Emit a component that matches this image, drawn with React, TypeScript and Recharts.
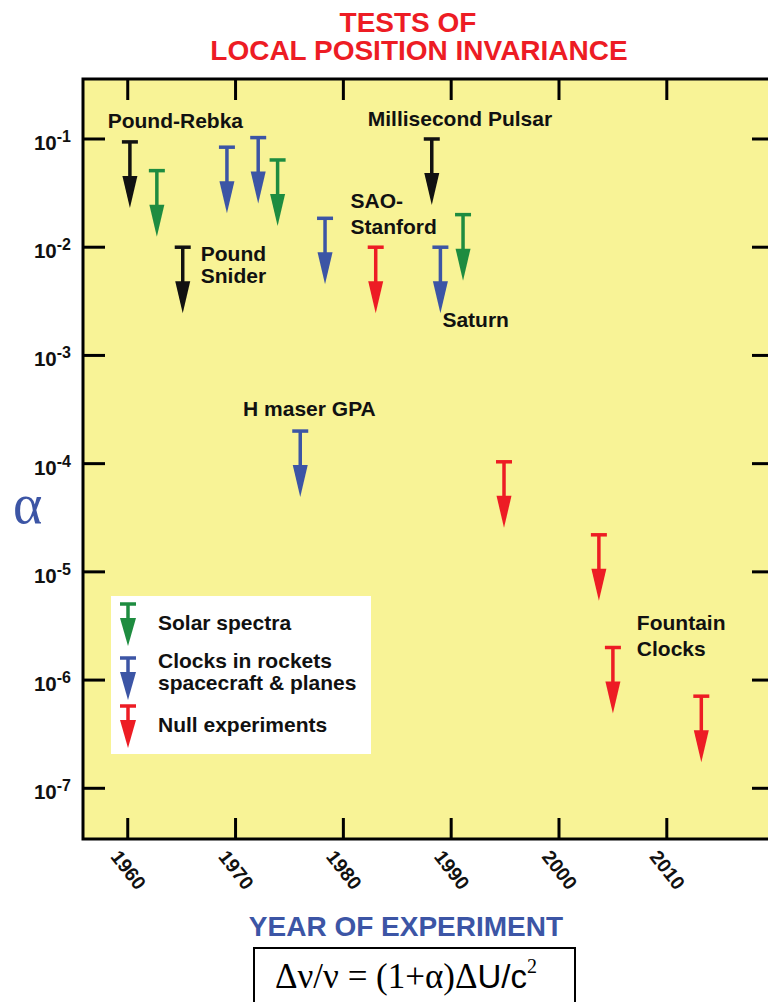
import React from "react";
import {
  ScatterChart,
  Scatter,
  XAxis,
  YAxis,
  ReferenceArea,
  ReferenceDot,
} from "recharts";

// black: gravitational redshift / pulsar
const otherYears = [1960.2, 1965.1, 1988.2];
const otherAlpha = [0.094, 0.01, 0.1];
// green: solar spectra
const solarYears = [1962.7, 1973.9, 1991.1];
const solarAlpha = [0.051, 0.064, 0.02];
// blue: clocks in rockets, spacecraft & planes
const clockYears = [1969.2, 1972.1, 1976.0, 1978.3, 1989.0];
const clockAlpha = [0.084, 0.103, 2.0e-4, 0.0185, 0.01];
// red: null experiments
const nullYears = [1983.0, 1994.9, 2003.7, 2005.0, 2013.2];
const nullAlpha = [0.01, 1.04e-4, 2.2e-5, 2.0e-6, 7.1e-7];

const yearTicks = [1960, 1970, 1980, 1990, 2000, 2010];
const alphaTicks = [1e-1, 1e-2, 1e-3, 1e-4, 1e-5, 1e-6, 1e-7];

const noteText = [
  ["Pound-Rebka"],
  ["Millisecond Pulsar"],
  ["SAO-", "Stanford"],
  ["Pound", "Snider"],
  ["Saturn"],
  ["H maser GPA"],
  ["Fountain", "Clocks"],
];
const noteYear = [1958.14, 1982.26, 1980.66, 1966.77, 1989.19, 1970.7, 2007.22];
const noteAlpha = [0.1265, 0.1318, 0.023, 0.00738, 0.00184, 2.75e-4, 2.9e-6];
const noteGap = [0, 0, 26, 22, 0, 0, 26];

const legendText = [
  ["Solar spectra"],
  ["Clocks in rockets", "spacecraft & planes"],
  ["Null experiments"],
];

const X_DOMAIN = [1955.85, 2019.85];
const Y_DOMAIN = [3.4e-8, 0.3584];

const BLACK = "#111";
const GREEN = "#1e8c40";
const BLUE = "#3c55a5";
const RED = "#ed1c24";
const YELLOW = "#f8f396";
const SANS = "'Liberation Sans', Arial, Helvetica, sans-serif";
const SERIF = "'Liberation Serif', 'Times New Roman', serif";

const CHART_W = 800;
const CHART_H = 1002;
const PLOT_LEFT = 83;
const PLOT_TOP = 79;
const PLOT_RIGHT = 773;
const PLOT_BOTTOM = 839;
const AXIS_W = 40;
const AXIS_H = 40;

const toPoints = (years: number[], alpha: number[]) =>
  years.map((year, i) => ({ year, alpha: alpha[i] }));

const LimitArrow = ({ cx, cy, color }: any) => (
  <g>
    <line x1={cx - 8} x2={cx + 8} y1={cy} y2={cy} stroke={color} strokeWidth={3.5} />
    <line x1={cx} x2={cx} y1={cy} y2={cy + 36} stroke={color} strokeWidth={3.5} />
    <polygon
      points={`${cx - 7.5},${cy + 34} ${cx + 7.5},${cy + 34} ${cx},${cy + 66}`}
      fill={color}
    />
  </g>
);

const arrowShape = (color: string) => (p: any) =>
  <LimitArrow cx={p.cx} cy={p.cy} color={color} />;

const YearTick = (props: any) => {
  const { x, payload } = props;
  const lx = x - 18;
  const ly = 857;
  return (
    <g>
      <line x1={x} x2={x} y1={PLOT_BOTTOM - 21} y2={PLOT_BOTTOM} stroke="#000" strokeWidth={3} />
      <line x1={x} x2={x} y1={PLOT_TOP} y2={PLOT_TOP + 21} stroke="#000" strokeWidth={3} />
      <text
        x={lx}
        y={ly}
        transform={`rotate(52 ${lx} ${ly})`}
        fontFamily={SANS}
        fontWeight="bold"
        fontSize={19.5}
        fill={BLACK}
      >
        {payload.value}
      </text>
    </g>
  );
};

const AlphaTick = (props: any) => {
  const { y, payload } = props;
  const exp = Math.round(Math.log10(payload.value));
  return (
    <g>
      <line x1={PLOT_LEFT} x2={PLOT_LEFT + 22} y1={y} y2={y} stroke="#000" strokeWidth={3} />
      <line x1={PLOT_RIGHT - 21} x2={PLOT_RIGHT} y1={y} y2={y} stroke="#000" strokeWidth={3} />
      <text
        x={71}
        y={y + 11}
        textAnchor="end"
        fontFamily={SANS}
        fontWeight="bold"
        fontSize={20.5}
        fill={BLACK}
      >
        10
        <tspan dy={-8} fontSize={16}>
          {`-${Math.abs(exp)}`}
        </tspan>
      </text>
    </g>
  );
};

const Note = ({ cx, cy, lines, gap }: any) => (
  <text fontFamily={SANS} fontWeight="bold" fontSize={21} fill={BLACK}>
    {lines.map((t: string, i: number) => (
      <tspan key={i} x={cx} y={cy + i * gap}>
        {t}
      </tspan>
    ))}
  </text>
);

const LegendArrow = ({ x, y, color }: any) => (
  <g>
    <line x1={x - 8} x2={x + 8} y1={y} y2={y} stroke={color} strokeWidth={3.5} />
    <line x1={x} x2={x} y1={y} y2={y + 16} stroke={color} strokeWidth={3.5} />
    <polygon points={`${x - 8},${y + 14} ${x + 8},${y + 14} ${x},${y + 42}`} fill={color} />
  </g>
);

const legendColors = [GREEN, BLUE, RED];
const legendArrowY = [604, 658, 706];
const legendBaseY = [630, 668, 732];

const Overlay = () => (
  <svg
    width={768}
    height={1002}
    style={{ position: "absolute", left: 0, top: 0, pointerEvents: "none" }}
  >
    <text x={408} y={32} textAnchor="middle" fontFamily={SANS} fontWeight="bold" fontSize={28} fill={RED}>
      TESTS OF
    </text>
    <text x={419} y={60} textAnchor="middle" fontFamily={SANS} fontWeight="bold" fontSize={28} fill={RED}>
      LOCAL POSITION INVARIANCE
    </text>

    <text x={13} y={523} fontFamily={SERIF} fontSize={56} fill={BLUE}>
      α
    </text>

    <text x={406} y={936} textAnchor="middle" fontFamily={SANS} fontWeight="bold" fontSize={28} fill={BLUE}>
      YEAR OF EXPERIMENT
    </text>

    <rect x={254} y={948} width={321} height={80} fill="#fff" stroke="#000" strokeWidth={2} />
    <text x={275} y={988} fontFamily={SERIF} fontSize={35} fill="#000">
      Δν/ν = (1+α)Δ
      <tspan fontFamily={SANS} fontSize={33}>U/c</tspan>
      <tspan dy={-15} fontSize={20}>
        2
      </tspan>
    </text>

    <rect x={111} y={596} width={260} height={158} fill="#fff" />
    {legendText.map((lines, i) => (
      <g key={i}>
        <LegendArrow x={128} y={legendArrowY[i]} color={legendColors[i]} />
        <text fontFamily={SANS} fontWeight="bold" fontSize={21} fill={BLACK}>
          {lines.map((t, j) => (
            <tspan key={j} x={158} y={legendBaseY[i] + j * 22}>
              {t}
            </tspan>
          ))}
        </text>
      </g>
    ))}
  </svg>
);

export default function App() {
  return (
    <div
      style={{
        position: "fixed",
        left: 0,
        top: 0,
        width: 768,
        height: 1002,
        overflow: "hidden",
        background: "#fff",
      }}
    >
      <ScatterChart
        width={CHART_W}
        height={CHART_H}
        margin={{
          top: PLOT_TOP,
          right: CHART_W - PLOT_RIGHT,
          bottom: CHART_H - PLOT_BOTTOM - AXIS_H,
          left: PLOT_LEFT - AXIS_W,
        }}
      >
        <ReferenceArea
          x1={X_DOMAIN[0]}
          x2={X_DOMAIN[1]}
          y1={Y_DOMAIN[0]}
          y2={Y_DOMAIN[1]}
          fill={YELLOW}
          fillOpacity={1}
          stroke="#000"
          strokeWidth={3}
        />
        <XAxis
          type="number"
          dataKey="year"
          domain={X_DOMAIN}
          ticks={yearTicks}
          interval={0}
          allowDataOverflow
          height={AXIS_H}
          axisLine={false}
          tickLine={false}
          tick={YearTick}
        />
        <YAxis
          type="number"
          dataKey="alpha"
          scale="log"
          domain={Y_DOMAIN}
          ticks={alphaTicks}
          interval={0}
          allowDataOverflow
          width={AXIS_W}
          axisLine={false}
          tickLine={false}
          tick={AlphaTick}
        />
        <Scatter data={toPoints(otherYears, otherAlpha)} shape={arrowShape(BLACK)} isAnimationActive={false} />
        <Scatter data={toPoints(solarYears, solarAlpha)} shape={arrowShape(GREEN)} isAnimationActive={false} />
        <Scatter data={toPoints(clockYears, clockAlpha)} shape={arrowShape(BLUE)} isAnimationActive={false} />
        <Scatter data={toPoints(nullYears, nullAlpha)} shape={arrowShape(RED)} isAnimationActive={false} />
        {noteText.map((lines, i) => (
          <ReferenceDot
            key={i}
            x={noteYear[i]}
            y={noteAlpha[i]}
            r={0}
            shape={(p: any) => <Note cx={p.cx} cy={p.cy} lines={lines} gap={noteGap[i]} />}
          />
        ))}
      </ScatterChart>
      <Overlay />
    </div>
  );
}
